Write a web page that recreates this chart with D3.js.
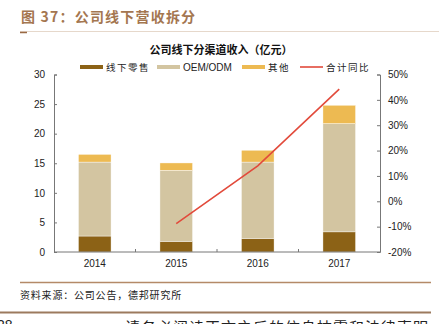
<!DOCTYPE html>
<html><head><meta charset="utf-8">
<script src="https://cdn.jsdelivr.net/npm/d3@7"></script>
<style>body{margin:0;background:#fff;}svg{display:block;}</style>
</head><body><svg id="c" width="439" height="324"></svg>
<script>
const years = ["2014","2015","2016","2017"];
const offline = [2.7, 1.8, 2.3, 3.4];
const oem = [12.5, 12.0, 12.9, 18.3];
const other = [1.3, 1.25, 2.0, 3.1];
const yoy = [null, -8.8, 14.0, 44.2];
const leftTicks = [0,5,10,15,20,25,30];
const rightTicks = [-20,-10,0,10,20,30,40,50];
const seriesNames = ["线下零售","OEM/ODM","其他","合计同比"];
const colors = ["#8C6216","#D3C5A1","#EDBA52","#E24A3B"];

const svg = d3.select("#c");
const cjk = "'Noto Sans CJK SC', sans-serif";
const lat = "'Liberation Sans', Arial, sans-serif";

// header
svg.append("text").attr("x",21).attr("y",22).attr("font-family",cjk).attr("font-weight","bold")
  .attr("font-size",14).attr("fill","#A47650").attr("letter-spacing",1.2).text("图 37：公司线下营收拆分");
svg.append("line").attr("x1",20).attr("x2",439).attr("y1",31.5).attr("y2",31.5).attr("stroke","#E6D8CB").attr("stroke-width",1);
svg.append("line").attr("x1",20).attr("x2",27).attr("y1",32.5).attr("y2",32.5).attr("stroke","#9A6A44").attr("stroke-width",1.5);

svg.append("text").attr("x",221).attr("y",54).attr("text-anchor","middle").attr("font-family",cjk)
  .attr("font-weight","bold").attr("font-size",11).attr("fill","#111").text("公司线下分渠道收入（亿元）");

const x0 = 54, x1 = 380, yTop = 74.5, yBot = 252;
const x = d3.scaleBand().domain(years).range([x0,x1]).paddingInner(0.6).paddingOuter(0.3);
const yL = d3.scaleLinear().domain([0,30]).range([yBot,yTop]);
const yR = d3.scaleLinear().domain([-20,50]).range([yBot,yTop]);

// bars
const stackData = years.map((y,i)=>({year:y, a:offline[i], b:oem[i], c:other[i]}));
const stack = d3.stack().keys(["a","b","c"])(stackData);
stack.forEach((s,k)=>{
  svg.append("g").selectAll("rect").data(s).join("rect")
    .attr("x",d=>x(d.data.year)).attr("width",x.bandwidth())
    .attr("y",d=>yL(d[1])).attr("height",d=>yL(d[0])-yL(d[1]))
    .attr("fill",colors[k]).attr("stroke","#fff").attr("stroke-width",0.4);
});

// axes
const axL = svg.append("g").attr("transform",`translate(${x0},0)`)
  .call(d3.axisLeft(yL).tickValues(leftTicks).tickSize(-3).tickPadding(9));
const axR = svg.append("g").attr("transform",`translate(${x1},0)`)
  .call(d3.axisRight(yR).tickValues(rightTicks).tickSize(-3).tickPadding(8).tickFormat(d=>d+"%"));
const xb = d3.scalePoint().domain(d3.range(5)).range([x0,x1]);
const axX = svg.append("g").attr("transform",`translate(0,${yBot})`);
axX.append("line").attr("x1",x0).attr("x2",x1).attr("stroke","#777");
axX.selectAll("line.t").data([1,2,3]).join("line").attr("class","t")
  .attr("x1",d=>xb(d)).attr("x2",d=>xb(d)).attr("y1",0).attr("y2",-3).attr("stroke","#777");
axX.selectAll("text").data(years).join("text").attr("x",d=>x(d)+x.bandwidth()/2).attr("y",15)
  .attr("text-anchor","middle").attr("font-family",lat).attr("font-size",10).attr("fill","#222").text(d=>d);
[axL,axR].forEach(a=>{
  a.select(".domain").attr("stroke","#777");
  a.selectAll(".tick line").attr("stroke","#777");
  a.selectAll("text").attr("font-family",lat).attr("font-size",10).attr("fill","#222");
});

// line
const line = d3.line().defined(d=>d.v!==null).x(d=>x(d.y)+x.bandwidth()/2).y(d=>yR(d.v));
svg.append("path").datum(years.map((y,i)=>({y,v:yoy[i]}))).attr("d",line)
  .attr("fill","none").attr("stroke",colors[3]).attr("stroke-width",1.6);

// legend
const leg = [{x:80,t:0},{x:157,t:1},{x:242,t:2},{x:300,t:3}];
leg.forEach(l=>{
  if(l.t<3) svg.append("rect").attr("x",l.x).attr("y",65).attr("width",23).attr("height",4).attr("fill",colors[l.t]);
  else svg.append("line").attr("x1",l.x).attr("x2",l.x+23).attr("y1",67).attr("y2",67).attr("stroke",colors[3]).attr("stroke-width",1.6);
  svg.append("text").attr("x",l.x+26).attr("y",70.5)
    .attr("font-family",l.t===1?lat:cjk).attr("font-size",l.t===1?10:9.5).attr("fill","#222")
    .attr("letter-spacing",l.t===1?0:1.5).text(seriesNames[l.t]);
});

// footer
svg.append("line").attr("x1",20).attr("x2",431).attr("y1",282.5).attr("y2",282.5).attr("stroke","#B48A68").attr("stroke-width",1.5);
svg.append("text").attr("x",20).attr("y",299).attr("font-family",cjk).attr("font-size",10).attr("fill","#222")
  .attr("letter-spacing",0.8).text("资料来源：公司公告，德邦研究所");
svg.append("line").attr("x1",0).attr("x2",431).attr("y1",312.5).attr("y2",312.5).attr("stroke","#9C7A5E").attr("stroke-width",2);
svg.append("text").attr("x",-3).attr("y",330).attr("font-family",lat).attr("font-size",14).attr("fill","#222").text("28");
svg.append("text").attr("x",125).attr("y",333).attr("font-family",cjk).attr("font-size",15).attr("fill","#222")
  .attr("letter-spacing",1).text("请务必阅读正文之后的信息披露和法律声明");
</script></body></html>
